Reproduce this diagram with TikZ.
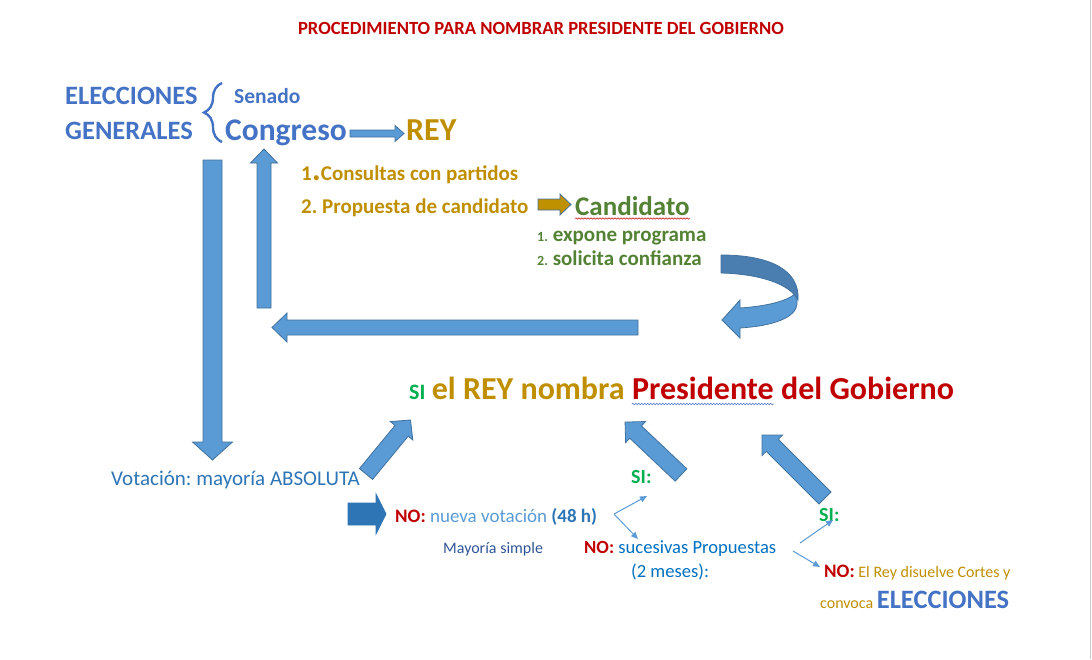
\documentclass[tikz,border=0pt]{standalone}
\usepackage{fontspec}
\setmainfont{Carlito}
\usetikzlibrary{positioning,arrows.meta,decorations.pathreplacing,decorations.pathmorphing}
\definecolor{titblue}{HTML}{4472C4}
\definecolor{kinggold}{HTML}{BF8F00}
\definecolor{candgreen}{HTML}{548235}
\definecolor{darkred}{HTML}{C00000}
\definecolor{sigreen}{HTML}{00B050}
\definecolor{arrfill}{HTML}{5B9BD5}
\definecolor{arrline}{HTML}{41719C}
\definecolor{arrdark}{HTML}{2E75B6}
\definecolor{propblue}{HTML}{0070C0}
\definecolor{simpblue}{HTML}{2F5597}
\definecolor{goldarr}{HTML}{BF9000}
\definecolor{ribbondark}{HTML}{4A7EB1}
\frenchspacing
\newcommand{\fsz}[1]{\fontsize{#1}{#1}\selectfont}
% block arrow: [style]{tail}{angle}{length}{half shaft}{half head}{head length}
\newcommand{\blockarrow}[7][]{%
  \filldraw[blockarr,#1,shift={(#2)},rotate=#3]
    (0,-#5) -- ({#4-#7},-#5) -- ({#4-#7},-#6) -- (#4,0)
    -- ({#4-#7},#6) -- ({#4-#7},#5) -- (0,#5) -- cycle;}

\begin{document}
\begin{tikzpicture}[x=1pt,y=-1pt,
  txt/.style={inner sep=0pt, anchor=base west},
  blockarr/.style={fill=arrfill, draw=arrline, line width=0.8pt},
  thinarr/.style={draw=arrfill, line width=1pt, -{Triangle[length=7pt,width=6pt]}},
  squiggle/.style={decorate, decoration={snake, amplitude=0.7pt, segment length=3pt}, line width=0.5pt}]
\useasboundingbox (0,0) rectangle (1092,659);
\draw[black!20, line width=1pt] (1090,0) -- (1090,659);

% title
\node[inner sep=0pt, anchor=base, font=\bfseries\fsz{18.6}, text=darkred] (title) at (541,34)
  {PROCEDIMIENTO PARA NOMBRAR PRESIDENTE DEL GOBIERNO};

% elecciones
\node[txt, font=\bfseries\fsz{26.5}, text=titblue] (elecciones) at (65,104) {ELECCIONES};
\node[txt, font=\bfseries\fsz{26.5}, text=titblue] (generales) at (65,139) {GENERALES};
\draw[titblue, line width=2.4pt, decorate, decoration={brace, amplitude=18pt}] (222,142) -- (222,83);
\node[txt, font=\bfseries\fsz{21.5}, text=titblue] (senado) at (234,103) {Senado};
\node[txt, font=\bfseries\fsz{31.5}, text=titblue] (congreso) at (225,140) {Congreso};
\node[txt, font=\bfseries\fsz{32}, text=kinggold] (rey) at (406,140) {REY};
\blockarrow{350,133.5}{0}{54}{3.5}{8}{9}

% rey
\node[txt, font=\bfseries\fsz{21}, text=kinggold] (consultas) at (301,180)
  {1{\fsz{34}.}Consultas con partidos};
\node[txt, font=\bfseries\fsz{21}, text=kinggold] (propuesta) at (301,213)
  {2. Propuesta de candidato};
\blockarrow[fill=goldarr]{538,204.5}{0}{33}{5.5}{10.5}{11}

% candidato
\node[txt, font=\bfseries\fsz{27}, text=candgreen] (candidato) at (575,215) {Candidato};
\draw[darkred, squiggle] ([yshift=-3.5pt]candidato.base west) -- ([yshift=-3.5pt]candidato.base east);
\node[txt, font=\bfseries\fsz{21}, text=candgreen] (expone) at (537,241)
  {{\fsz{14}1.} expone programa};
\node[txt, font=\bfseries\fsz{21}, text=candgreen] (solicita) at (537,265)
  {{\fsz{14}2.} solicita confianza};

% ribbon arrow
\filldraw[fill=arrfill, draw=arrline, line width=0.8pt]
  (797,292) .. controls (790,300) and (770,306) .. (740,308) -- (740,300) -- (722,320)
  -- (740,338) -- (740,328) .. controls (772,326) and (797,318) .. (797,303) -- cycle;
\filldraw[fill=ribbondark, draw=arrline, line width=0.8pt]
  (721,255) .. controls (770,255) and (800,270) .. (798,300)
  .. controls (790,284) and (760,274) .. (721,273) -- cycle;

% back arrows
\blockarrow{638,327.5}{180}{366}{7.5}{14.5}{15}
\blockarrow{264,308}{90}{159}{7}{13.5}{14}
\blockarrow{212.5,160}{-90}{300}{9.5}{20}{18}

% presidente
\node[txt, font=\bfseries\fsz{22}, text=sigreen] (si) at (409,399) {SI};
\node[txt, font=\bfseries\fsz{32}, text=kinggold, base right=6pt of si] (nombra) {el REY nombra};
\node[txt, font=\bfseries\fsz{32}, text=darkred, base right=7pt of nombra] (presidente) {Presidente};
\node[txt, font=\bfseries\fsz{32}, text=darkred, base right=7pt of presidente] (gobierno) {del Gobierno};
\draw[titblue, squiggle] ([yshift=-5pt]presidente.base west) -- ([yshift=-5pt]presidente.base east);

% votacion
\node[txt, font=\fsz{21}, text=arrdark] (votacion) at (111,485) {Votación: mayoría ABSOLUTA};
\blockarrow{366,474}{50.5}{70}{8.5}{14.5}{14}
\blockarrow[fill=arrdark, draw=arrdark]{348,514}{0}{38}{11}{20}{10}
\node[txt, font=\fsz{19}, text=arrfill] (nueva) at (395,522)
  {\textcolor{darkred}{\bfseries NO:} nueva votación \textcolor{arrdark}{\bfseries (48 h)}};
\node[txt, font=\fsz{16}, text=simpblue] (mayoria) at (443,553) {Mayoría simple};

% segunda votacion
\node[txt, font=\bfseries\fsz{20}, text=sigreen] (siA) at (631,483) {SI:};
\node[txt, font=\fsz{18.6}, text=propblue] (sucesivas) at (584,553)
  {\textcolor{darkred}{\bfseries NO:} sucesivas Propuestas};
\node[txt, font=\fsz{18.6}, text=propblue] (meses) at (631,577) {(2 meses):};
\coordinate (splitA) at (614,514);
\coordinate (siAtip) at (647,496);
\coordinate (noAtip) at (638,539);
\draw[thinarr] (splitA) -- (siAtip);
\draw[thinarr] (splitA) -- (noAtip);
\blockarrow{681,475}{136.6}{77}{8.5}{14.5}{14.5}

% propuestas
\node[txt, font=\bfseries\fsz{20}, text=sigreen] (siB) at (819,521) {SI:};
\node[txt, font=\fsz{16}, text=kinggold] (disuelve) at (824,577)
  {\textcolor{darkred}{\bfseries\fsz{19}NO:} El Rey disuelve Cortes y};
\node[txt, font=\fsz{16}, text=kinggold] (convoca) at (820,608)
  {convoca \textcolor{titblue}{\bfseries\fsz{26.5}ELECCIONES}};
\coordinate (splitB) at (800,543);
\coordinate (splitC) at (793,551);
\coordinate (siBtip) at (833,520);
\coordinate (noBtip) at (820,567);
\draw[thinarr] (splitB) -- (siBtip);
\draw[thinarr] (splitC) -- (noBtip);
\blockarrow{825,498}{135}{89}{8.5}{14.5}{14.5}
\end{tikzpicture}
\end{document}
